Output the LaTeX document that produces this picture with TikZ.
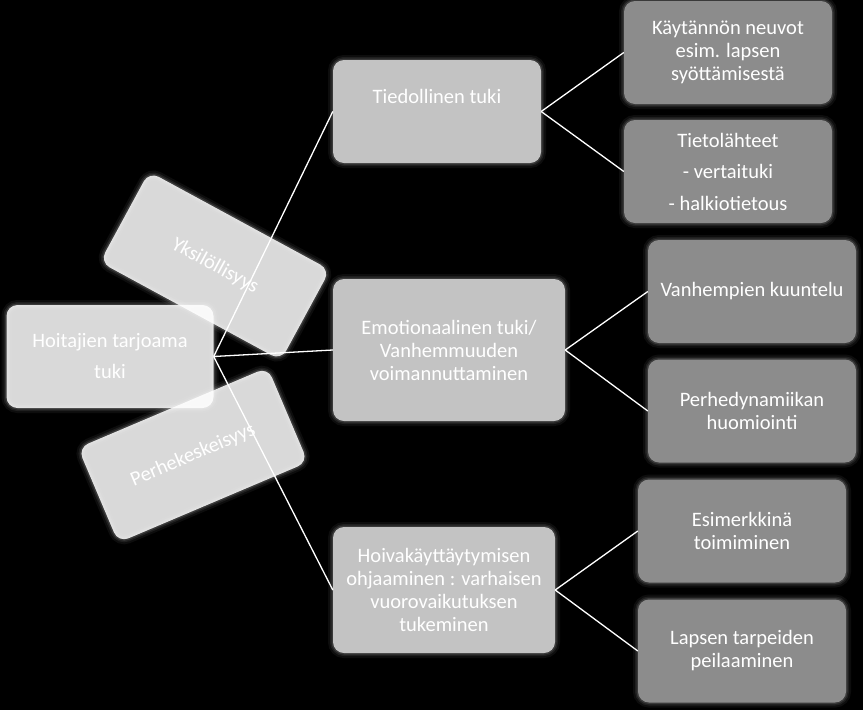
\documentclass[tikz,border=0pt]{standalone}
\usepackage{fontspec}
\setmainfont{Carlito}
\definecolor{midgrey}{HTML}{C3C3C3}
\definecolor{darkgrey}{HTML}{8C8C8C}
\begin{document}
\begin{tikzpicture}[x=1pt,y=-1pt,
  glow/.style={preaction={draw=white,draw opacity=0.05,line width=10pt},
               preaction={draw=white,draw opacity=0.08,line width=6pt},
               preaction={draw=white,draw opacity=0.12,line width=3pt}},
  base/.style={rounded corners=11pt, inner sep=0pt, align=center, text=white,
               font=\fontsize{20.5}{23}\selectfont},
  lightbox/.style={base, glow, fill=white, fill opacity=0.85, text opacity=1,
               minimum width=207pt, minimum height=103pt},
  midbox/.style={base, glow, fill=midgrey},
  darkbox/.style={base, glow, fill=darkgrey, minimum width=208pt, minimum height=103pt},
  plain/.style={inner sep=0pt, align=center, text=white, font=\fontsize{20.5}{23}\selectfont},
  link/.style={draw=white, line width=1.3pt}]
\useasboundingbox (0,0) rectangle (863,710);
\fill[black] (0,0) rectangle (863,710);

% root and rotated boxes
\node[lightbox, font=\fontsize{20.5}{31}\selectfont] (root) at (110,356.5) {Hoitajien tarjoama\\tuki};
\node[lightbox, rotate=-28.5, minimum width=206pt] (yks) at (215,266) {Yksilöllisyys};
\node[lightbox, rotate=23, minimum width=206pt] (per) at (193,455) {Perhekeskeisyys};

% level two
\node[midbox, minimum width=208pt, minimum height=103pt] (tied) at (437,111.5) {};
\node[plain] (tiedtext) at (437,96) {Tiedollinen tuki};
\node[midbox, minimum width=232pt, minimum height=142pt] (emo) at (449,350) {Emotionaalinen tuki/\\Vanhemmuuden\\voimannuttaminen};
\node[midbox, minimum width=222pt, minimum height=126pt] (hoiva) at (444,590) {Hoivakäyttäytymisen\\ohjaaminen : varhaisen\\vuorovaikutuksen\\tukeminen};

% level three
\node[darkbox] (kayt) at (728,52.5) {Käytännön neuvot\\esim. lapsen\\syöttämisestä};
\node[darkbox, font=\fontsize{20.5}{31.5}\selectfont] (tieto) at (728,171.5) {Tietolähteet\\- vertaituki\\- halkiotietous};
\node[darkbox] (vanh) at (752,291.5) {Vanhempien kuuntelu};
\node[darkbox] (perhe) at (752,411) {Perhedynamiikan\\huomiointi};
\node[darkbox] (esim) at (742,531) {Esimerkkinä\\toimiminen};
\node[darkbox] (lapsen) at (742,651) {Lapsen tarpeiden\\peilaaminen};

% connectors
\draw[link] (root.east) -- (tied.west);
\draw[link] (root.east) -- (emo.west);
\draw[link] (root.east) -- (hoiva.west);
\draw[link] (tied.east) -- (kayt.west);
\draw[link] (tied.east) -- (tieto.west);
\draw[link] (emo.east) -- (vanh.west);
\draw[link] (emo.east) -- (perhe.west);
\draw[link] (hoiva.east) -- (esim.west);
\draw[link] (hoiva.east) -- (lapsen.west);
\end{tikzpicture}
\end{document}
